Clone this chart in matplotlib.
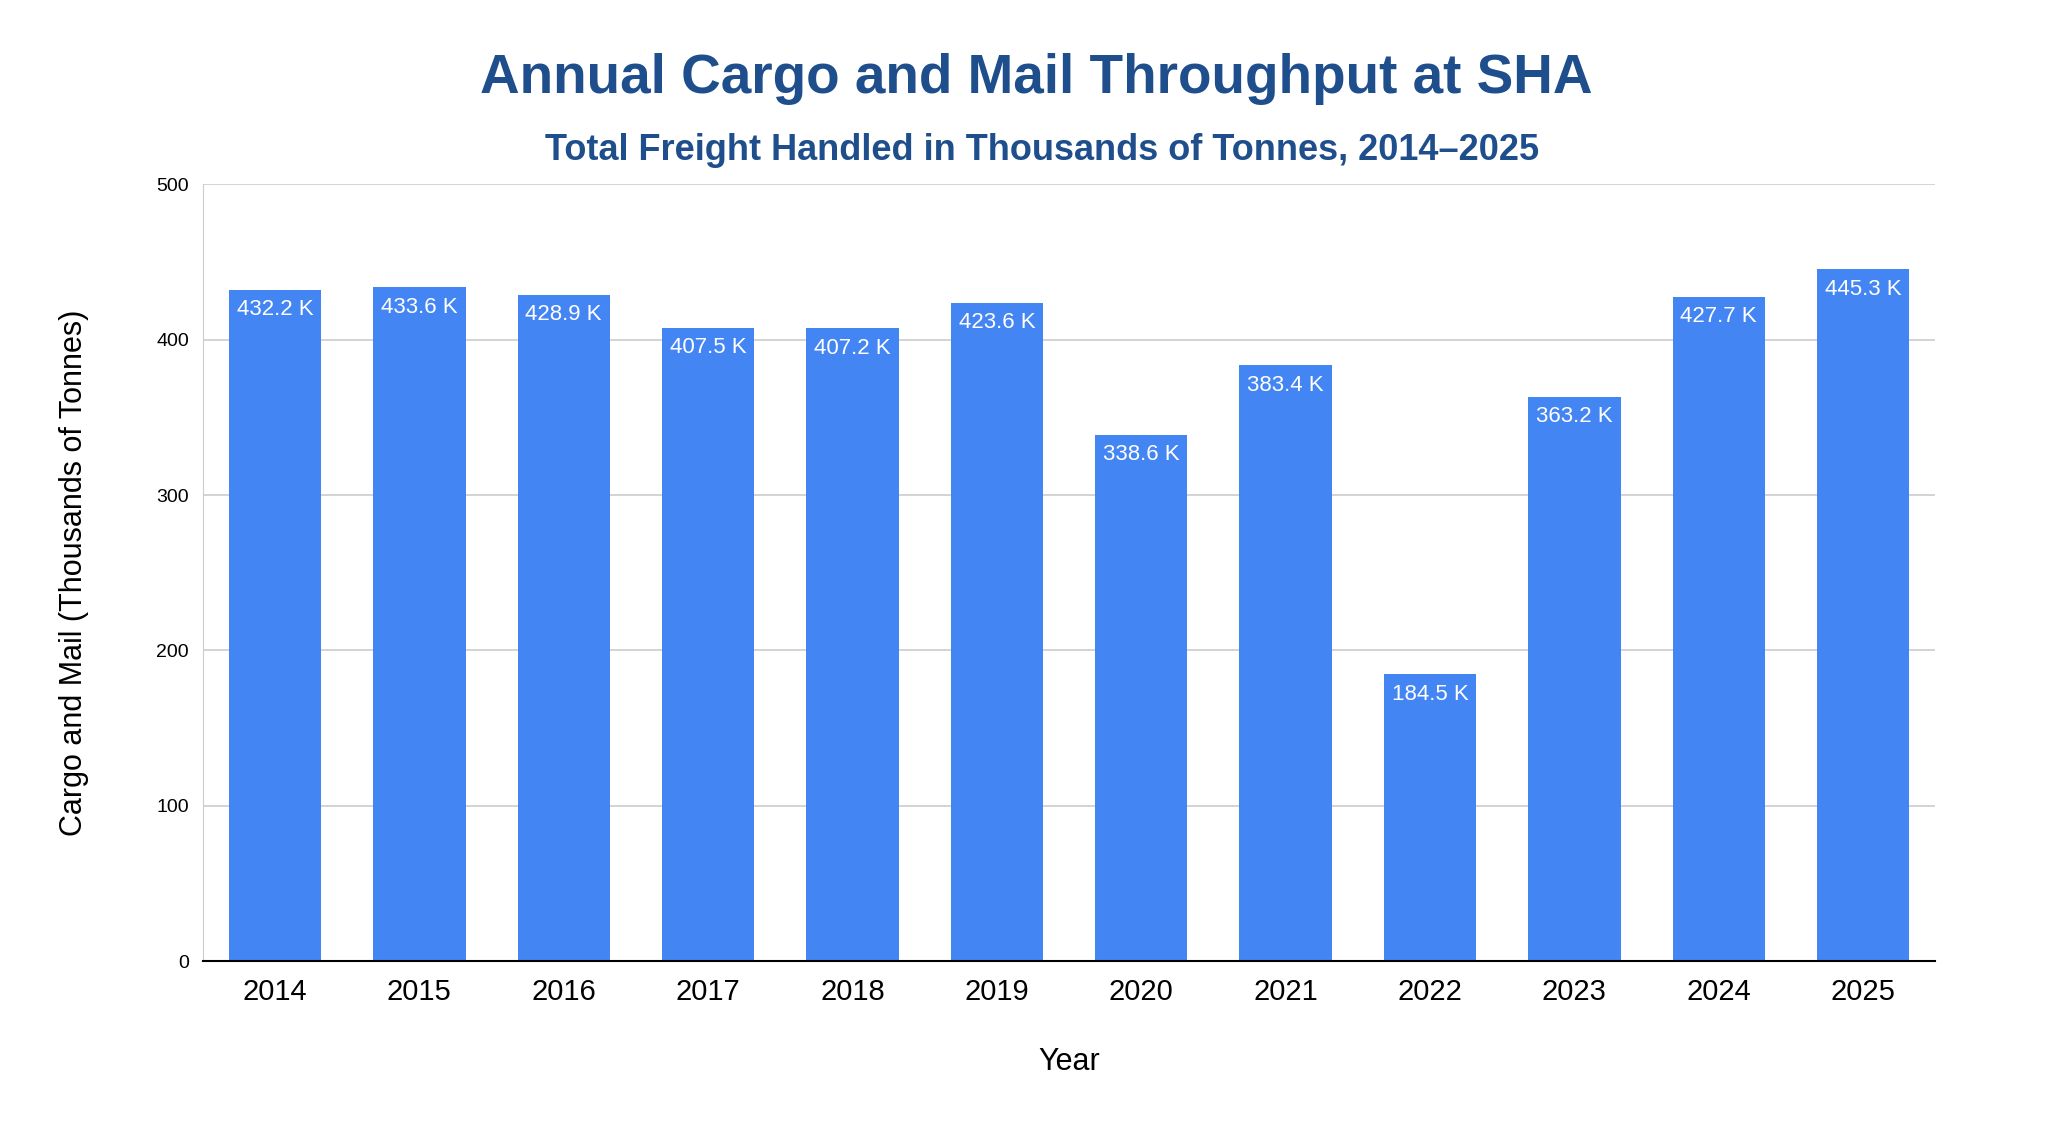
import matplotlib
matplotlib.use("Agg")
import matplotlib.pyplot as plt

years = ["2014", "2015", "2016", "2017", "2018", "2019", "2020", "2021", "2022", "2023", "2024", "2025"]
values = [432.2, 433.6, 428.9, 407.5, 407.2, 423.6, 338.6, 383.4, 184.5, 363.2, 427.7, 445.3]

plt.rcParams['font.family'] = ['Liberation Sans', 'DejaVu Sans']

fig = plt.figure(figsize=(20.48, 11.24), dpi=100)
ax = fig.add_axes([0.099, 0.145, 0.846, 0.691])

x = range(len(years))
ax.bar(x, values, width=0.64, color="#4485f4", zorder=2)
for i, v in zip(x, values):
    ax.text(i, v - 6, f"{v:.1f} K", ha="center", va="top", color="white", fontsize=16, zorder=3)

ax.set_xlim(-0.5, len(years) - 0.5)
ax.set_ylim(0, 500)
ax.set_yticks([0, 100, 200, 300, 400, 500])
ax.set_xticks(list(x))
ax.set_xticklabels(years, fontsize=21)
ax.tick_params(axis="y", labelsize=14, length=0, pad=10)
ax.tick_params(axis="x", length=0, pad=12)
ax.grid(axis="y", color="#cccccc", linewidth=1.2, zorder=0)
for s in ["top", "right"]:
    ax.spines[s].set_visible(False)
ax.spines["left"].set_color("#cccccc")
ax.spines["bottom"].set_color("black")
ax.spines["bottom"].set_linewidth(1.5)

ax.set_xlabel("Year", fontsize=22, labelpad=30)
ax.set_ylabel("Cargo and Mail (Thousands of Tonnes)", fontsize=22, labelpad=48)

fig.text(0.506, 0.93, "Annual Cargo and Mail Throughput at SHA", ha="center", va="center",
         fontsize=39.5, fontweight="bold", color="#1f4e8c")
fig.text(0.509, 0.866, "Total Freight Handled in Thousands of Tonnes, 2014\u20132025", ha="center", va="center",
         fontsize=26, fontweight="bold", color="#1f4e8c")

fig.savefig("out.png")
